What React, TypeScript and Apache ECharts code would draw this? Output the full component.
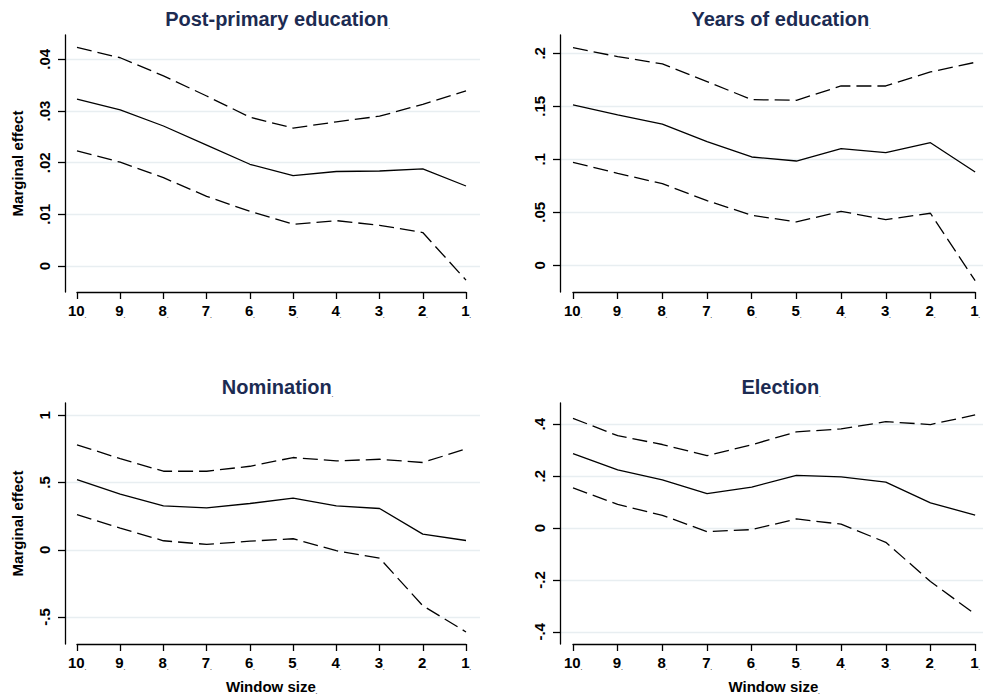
import React, { useEffect, useRef } from "react";
import * as echarts from "echarts";

// ---------- data ----------
const windowSizes = ["10", "9", "8", "7", "6", "5", "4", "3", "2", "1"];

const postPrimaryEst = [0.0323, 0.0302, 0.0271, 0.0234, 0.0197, 0.0175, 0.0183, 0.0184, 0.0188, 0.0155];
const postPrimaryUpper = [0.0423, 0.0403, 0.0368, 0.0329, 0.0288, 0.0267, 0.0279, 0.029, 0.0313, 0.0339];
const postPrimaryLower = [0.0223, 0.0201, 0.0171, 0.0135, 0.0106, 0.0081, 0.0088, 0.0079, 0.0065, -0.0027];

const yearsEst = [0.1513, 0.142, 0.1333, 0.1167, 0.1022, 0.0984, 0.1101, 0.1063, 0.1157, 0.0881];
const yearsUpper = [0.2053, 0.1969, 0.19, 0.1733, 0.1563, 0.1557, 0.1692, 0.1692, 0.1824, 0.1915];
const yearsLower = [0.0972, 0.0868, 0.077, 0.061, 0.0472, 0.0409, 0.0509, 0.0431, 0.0491, -0.0145];

const nominationEst = [0.522, 0.413, 0.327, 0.312, 0.344, 0.384, 0.327, 0.307, 0.116, 0.069];
const nominationUpper = [0.78, 0.678, 0.584, 0.584, 0.621, 0.686, 0.661, 0.673, 0.649, 0.75];
const nominationLower = [0.262, 0.161, 0.067, 0.04, 0.064, 0.082, -0.007, -0.062, -0.416, -0.611];

const electionEst = [0.287, 0.224, 0.186, 0.133, 0.158, 0.203, 0.197, 0.177, 0.097, 0.05];
const electionUpper = [0.423, 0.356, 0.322, 0.279, 0.321, 0.371, 0.382, 0.41, 0.399, 0.436];
const electionLower = [0.155, 0.091, 0.049, -0.014, -0.006, 0.035, 0.015, -0.055, -0.206, -0.332];

const yTicksPost = [0, 0.01, 0.02, 0.03, 0.04];
const yLabelsPost = ["0", ".01", ".02", ".03", ".04"];
const yTicksYears = [0, 0.05, 0.1, 0.15, 0.2];
const yLabelsYears = ["0", ".05", ".1", ".15", ".2"];
const yTicksNom = [-0.5, 0, 0.5, 1];
const yLabelsNom = ["-.5", "0", ".5", "1"];
const yTicksElec = [-0.4, -0.2, 0, 0.2, 0.4];
const yLabelsElec = ["-.4", "-.2", "0", ".2", ".4"];

const panelTitles = ["Post-primary education", "Years of education", "Nomination", "Election"];
const yAxisTitle = "Marginal effect";
const xAxisTitle = "Window size";

// ---------- layout ----------
const FONT = "'Liberation Sans', Arial, Helvetica, sans-serif";
const TITLE_COLOR = "#1c2b52";
const GRID_COLOR = "#e8eef1";

const panels = [
  {
    title: panelTitles[0], est: postPrimaryEst, up: postPrimaryUpper, lo: postPrimaryLower,
    ticks: yTicksPost, labels: yLabelsPost, yMin: -0.005, yMax: 0.0447,
    bgLeft: 65, bgWidth: 415, dataLeft: 77, dataWidth: 389, top: 35, height: 257,
    titleX: 272.5, titleTop: 4, yName: true, xName: false,
  },
  {
    title: panelTitles[1], est: yearsEst, up: yearsUpper, lo: yearsLower,
    ticks: yTicksYears, labels: yLabelsYears, yMin: -0.0252, yMax: 0.2173,
    bgLeft: 560, bgWidth: 432, dataLeft: 573, dataWidth: 405, top: 35, height: 257,
    titleX: 776, titleTop: 4, yName: false, xName: false,
  },
  {
    title: panelTitles[2], est: nominationEst, up: nominationUpper, lo: nominationLower,
    ticks: yTicksNom, labels: yLabelsNom, yMin: -0.7006, yMax: 1.0914,
    bgLeft: 65, bgWidth: 415, dataLeft: 77, dataWidth: 389, top: 403, height: 241,
    titleX: 272.5, titleTop: 372, yName: true, xName: true,
  },
  {
    title: panelTitles[3], est: electionEst, up: electionUpper, lo: electionLower,
    ticks: yTicksElec, labels: yLabelsElec, yMin: -0.447, yMax: 0.482,
    bgLeft: 560, bgWidth: 432, dataLeft: 573, dataWidth: 405, top: 403, height: 241,
    titleX: 776, titleTop: 372, yName: false, xName: true,
  },
];

const dotRich = { d: { fontSize: 5, fontFamily: FONT, color: "#000", verticalAlign: "bottom" as const } };

function buildOption() {
  const grid: any[] = [];
  const xAxis: any[] = [];
  const yAxis: any[] = [];
  const series: any[] = [];
  const title: any[] = [];

  panels.forEach((p) => {
    title.push({
      text: p.title + "{d|.}",
      left: p.titleX,
      top: p.titleTop,
      textAlign: "center",
      textStyle: {
        fontFamily: FONT,
        fontSize: 20,
        fontWeight: "bold",
        color: TITLE_COLOR,
        rich: { d: { fontSize: 5, color: TITLE_COLOR, verticalAlign: "bottom" } },
      },
    });

    const bgIdx = grid.length;
    grid.push({ left: p.bgLeft, top: p.top, width: p.bgWidth, height: p.height, containLabel: false });
    const dIdx = grid.length;
    grid.push({ left: p.dataLeft, top: p.top, width: p.dataWidth, height: p.height, containLabel: false });

    // background axes (y axis line, labels, gridlines)
    xAxis.push({ gridIndex: bgIdx, type: "value", min: 0, max: 1, show: false });
    yAxis.push({
      gridIndex: bgIdx,
      type: "value",
      min: p.yMin,
      max: p.yMax,
      name: p.yName ? yAxisTitle : "",
      nameLocation: "middle",
      nameGap: 40,
      nameRotate: 90,
      nameTextStyle: { fontFamily: FONT, fontSize: 15, fontWeight: "bold", color: "#000" },
      axisLine: { show: true, lineStyle: { color: "#000", width: 1.3 } },
      axisTick: { show: true, length: 7, customValues: p.ticks, lineStyle: { color: "#000", width: 1.3 } },
      axisLabel: {
        customValues: p.ticks,
        rotate: 90,
        margin: 13,
        fontFamily: FONT,
        fontSize: 15,
        fontWeight: "bold",
        color: "#000",
        formatter: (v: number) => {
          let best = 0;
          p.ticks.forEach((t, k) => {
            if (Math.abs(t - v) < Math.abs(p.ticks[best] - v)) best = k;
          });
          return p.labels[best];
        },
      },
      splitLine: { show: true, lineStyle: { color: GRID_COLOR, width: 1.3 } },
    });

    // data axes
    xAxis.push({
      gridIndex: dIdx,
      type: "category",
      data: windowSizes,
      boundaryGap: false,
      name: p.xName ? xAxisTitle + "{d|.}" : "",
      nameLocation: "middle",
      nameGap: 35,
      nameTextStyle: { fontFamily: FONT, fontSize: 15, fontWeight: "bold", color: "#000", rich: dotRich },
      axisLine: { show: true, onZero: false, lineStyle: { color: "#000", width: 1.3 } },
      axisTick: { show: true, length: 7, alignWithLabel: true, lineStyle: { color: "#000", width: 1.3 } },
      axisLabel: {
        interval: 0,
        margin: 11,
        fontFamily: FONT,
        fontSize: 15,
        fontWeight: "bold",
        color: "#000",
        formatter: (v: string) => v + "{d|.}",
        rich: dotRich,
      },
      splitLine: { show: false },
    });
    const dX = xAxis.length - 1;
    yAxis.push({ gridIndex: dIdx, type: "value", min: p.yMin, max: p.yMax, show: false, splitLine: { show: false } });
    const dY = yAxis.length - 1;

    const mk = (data: number[], dashed: boolean) => ({
      type: "line",
      xAxisIndex: dX,
      yAxisIndex: dY,
      data,
      symbol: "none",
      silent: true,
      z: 3,
      lineStyle: { color: "#000", width: 1.3, type: dashed ? [15, 6] : "solid" },
    });
    series.push(mk(p.up, true));
    series.push(mk(p.est, false));
    series.push(mk(p.lo, true));
  });

  return {
    animation: false,
    backgroundColor: "#fff",
    title,
    grid,
    xAxis,
    yAxis,
    series,
  };
}

export default function App() {
  const ref = useRef<HTMLDivElement>(null);
  useEffect(() => {
    if (!ref.current) return;
    const chart = echarts.init(ref.current, undefined, { renderer: "svg" });
    chart.setOption(buildOption() as any);
    return () => chart.dispose();
  }, []);
  return (
    <div
      ref={ref}
      style={{ position: "fixed", left: 0, top: 0, width: 983, height: 698, background: "#fff" }}
    />
  );
}
